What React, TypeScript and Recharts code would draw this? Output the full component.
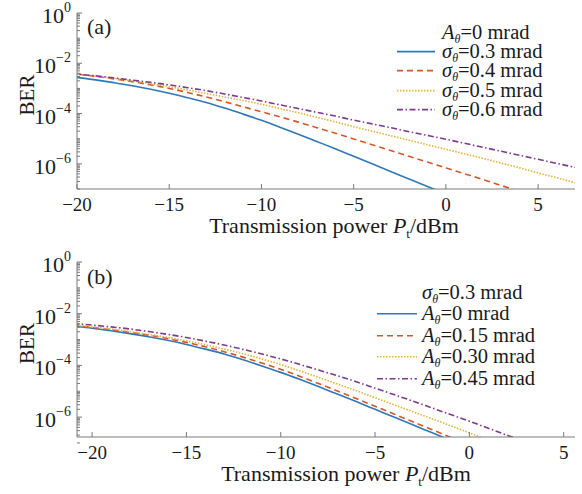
import React from "react";
import { LineChart, Line, XAxis, YAxis, Legend, Label } from "recharts";

// Transmission power P_t in dBm
const power = [-21, -20, -19, -18, -17, -16, -15, -14, -13, -12, -11, -10, -9, -8, -7, -6, -5, -4, -3, -2, -1, 0, 1, 2, 3, 4, 5, 6, 7];

// panel (a): A_θ = 0, σ_θ varies. Values are log10(BER)
const aSigma03 = [-2.48, -2.56, -2.66, -2.77, -2.89, -3.03, -3.19, -3.37, -3.56, -3.78, -4.02, -4.27, -4.54, -4.82, -5.11, -5.4, -5.7, -6.0, -6.3, -6.6, -6.9, -7.2, null, null, null, null, null, null, null];
const aSigma04 = [-2.36, -2.43, -2.52, -2.62, -2.73, -2.86, -3.0, -3.16, -3.34, -3.53, -3.73, -3.93, -4.13, -4.34, -4.56, -4.78, -5.01, -5.24, -5.47, -5.7, -5.93, -6.16, -6.39, -6.62, -6.86, -7.1, null, null, null];
const aSigma05 = [-2.36, -2.43, -2.51, -2.6, -2.7, -2.81, -2.93, -3.06, -3.2, -3.34, -3.48, -3.63, -3.8, -3.97, -4.15, -4.33, -4.52, -4.7, -4.88, -5.06, -5.24, -5.42, -5.6, -5.78, -5.97, -6.16, -6.36, -6.55, -6.75];
const aSigma06 = [-2.37, -2.43, -2.5, -2.58, -2.67, -2.76, -2.86, -2.97, -3.09, -3.22, -3.36, -3.5, -3.65, -3.8, -3.95, -4.1, -4.26, -4.41, -4.56, -4.72, -4.87, -5.02, -5.18, -5.34, -5.5, -5.66, -5.82, -5.98, -6.14];

// panel (b): σ_θ = 0.3, A_θ varies (A_θ=0 is the same curve as σ_θ=0.3 above)
const bAmp000 = [-2.48, -2.56, -2.66, -2.77, -2.89, -3.03, -3.19, -3.37, -3.56, -3.78, -4.02, -4.27, -4.54, -4.82, -5.11, -5.4, -5.7, -6.0, -6.3, -6.6, -6.9, -7.2, null, null, null, null, null, null, null];
const bAmp015 = [-2.46, -2.53, -2.62, -2.72, -2.83, -2.96, -3.11, -3.28, -3.47, -3.68, -3.91, -4.15, -4.42, -4.7, -4.99, -5.28, -5.58, -5.88, -6.18, -6.48, -6.78, -7.08, null, null, null, null, null, null, null];
const bAmp030 = [-2.44, -2.51, -2.59, -2.69, -2.8, -2.92, -3.05, -3.2, -3.37, -3.55, -3.75, -3.97, -4.21, -4.46, -4.72, -4.98, -5.25, -5.52, -5.79, -6.06, -6.33, -6.61, -6.89, null, null, null, null, null, null];
const bAmp045 = [-2.38, -2.44, -2.51, -2.59, -2.69, -2.8, -2.92, -3.06, -3.21, -3.38, -3.56, -3.75, -3.96, -4.18, -4.4, -4.63, -4.88, -5.13, -5.38, -5.64, -5.9, -6.16, -6.43, -6.7, -6.97, null, null, null, null];

const xTicks = [-20, -15, -10, -5, 0, 5];
const yMajorExp = [0, -2, -4, -6];

const AXIS = "#7a7a7a";
const FONT = '"Liberation Serif", "Times New Roman", serif';
const COLORS = ["#2e78b7", "#d4572a", "#e3b33b", "#7e3a8e"];
const DASHES = [undefined, "6 4", "1.5 1.5", "6 2.5 1.5 2.5"];

// minor log ticks 1..9 x 10^n
const yTicks: number[] = [];
for (let e = -7; e <= 0; e++) {
  for (let k = 1; k <= 9; k++) {
    if (e === 0 && k > 1) break;
    yTicks.push(k * Math.pow(10, e));
  }
}

const ber = (v: number | null) => (v == null ? null : Math.pow(10, v));

const dataA = power.map((p, i) => ({
  p,
  s1: ber(aSigma03[i]),
  s2: ber(aSigma04[i]),
  s3: ber(aSigma05[i]),
  s4: ber(aSigma06[i]),
}));

const dataB = power.map((p, i) => ({
  p,
  s1: ber(bAmp000[i]),
  s2: ber(bAmp015[i]),
  s3: ber(bAmp030[i]),
  s4: ber(bAmp045[i]),
}));

const fmtX = (v: number) => (v < 0 ? `\u2212${-v}` : `${v}`);

const XTick = (props: any) => {
  const { x, y, payload } = props;
  return (
    <g>
      <line x1={x} x2={x} y1={y} y2={y - 5} stroke={AXIS} />
      <text x={x} y={y + 22} textAnchor="middle" fontSize={19} fontFamily={FONT} fill="#1a1a1a">
        {fmtX(payload.value)}
      </text>
    </g>
  );
};

const YTick = (props: any) => {
  const { x, y, payload } = props;
  const lg = Math.log10(payload.value);
  const e = Math.round(lg);
  const isMajor = Math.abs(lg - e) < 1e-6 && yMajorExp.includes(e);
  if (!isMajor) return <line x1={x} x2={x + 3} y1={y} y2={y} stroke={AXIS} />;
  return (
    <g>
      <line x1={x} x2={x + 5} y1={y} y2={y} stroke={AXIS} />
      <text x={x - 6} y={y + 10} textAnchor="end" fontSize={22} fontFamily={FONT} fill="#1a1a1a">
        <tspan>10</tspan>
        <tspan dy={-11} fontSize={14}>{e === 0 ? "0" : `\u2212${-e}`}</tspan>
      </text>
    </g>
  );
};

type Item = { pre: string; value: string };

const Sub = ({ ch }: { ch: string }) => (
  <span style={{ fontSize: 12, fontStyle: "italic", position: "relative", top: 4, lineHeight: 0 }}>{ch}</span>
);

const LegendBox = ({ title, items, rowH, sampleW, gap }: { title: Item; items: Item[]; rowH: number; sampleW: number; gap: number }) => (
  <div style={{ fontFamily: FONT, fontSize: 20.5, color: "#1a1a1a", lineHeight: `${rowH}px`, whiteSpace: "nowrap" }}>
    <div style={{ paddingLeft: sampleW + gap, height: rowH }}>
      <i>{title.pre}</i>
      <Sub ch={"\u03b8"} />={title.value}
    </div>
    {items.map((it, i) => (
      <div key={i} style={{ display: "flex", alignItems: "center", height: rowH }}>
        <svg width={sampleW} height={rowH} style={{ marginRight: gap }}>
          <line x1={0} x2={sampleW} y1={rowH / 2} y2={rowH / 2} stroke={COLORS[i]} strokeWidth={1.6} strokeDasharray={DASHES[i]} />
        </svg>
        <span>
          <i>{it.pre}</i>
          <Sub ch={"\u03b8"} />={it.value}
        </span>
      </div>
    ))}
  </div>
);

const legendA = {
  title: { pre: "A", value: "0 mrad" },
  items: [
    { pre: "\u03c3", value: "0.3 mrad" },
    { pre: "\u03c3", value: "0.4 mrad" },
    { pre: "\u03c3", value: "0.5 mrad" },
    { pre: "\u03c3", value: "0.6 mrad" },
  ],
};
const legendB = {
  title: { pre: "\u03c3", value: "0.3 mrad" },
  items: [
    { pre: "A", value: "0 mrad" },
    { pre: "A", value: "0.15 mrad" },
    { pre: "A", value: "0.30 mrad" },
    { pre: "A", value: "0.45 mrad" },
  ],
};

type PanelProps = {
  data: any[];
  xDomain: [number, number];
  yDomain: [number, number];
  marginTop: number;
  xAxisH: number;
  titleX: number;
  legend: { title: Item; items: Item[] };
  legendPos: { left: number; top: number };
  rowH: number;
  sampleW: number;
  gap: number;
  names: string[];
};

const Panel = (p: PanelProps) => (
  <LineChart width={582} height={247} data={p.data} margin={{ top: p.marginTop, right: 7, bottom: 0, left: 10 }}>
    <XAxis
      dataKey="p"
      type="number"
      domain={p.xDomain}
      allowDataOverflow
      ticks={xTicks}
      interval={0}
      tickSize={0}
      tickMargin={0}
      height={p.xAxisH}
      stroke={AXIS}
      tick={<XTick />}
    >
      <Label
        content={(lp: any) => {
          const vb = lp.viewBox;
          return (
            <text x={p.titleX} y={vb.y + 44} textAnchor="middle" fontSize={22} fontFamily={FONT} fill="#1a1a1a">
              <tspan>Transmission power </tspan>
              <tspan fontStyle="italic">P</tspan>
              <tspan dy={5} fontSize={13}>t</tspan>
              <tspan dy={-5}>/dBm</tspan>
            </text>
          );
        }}
      />
    </XAxis>
    <XAxis xAxisId="top" orientation="top" dataKey="p" type="number" domain={p.xDomain} allowDataOverflow height={0} tick={false} tickLine={false} stroke={AXIS} />
    <YAxis
      scale="log"
      type="number"
      domain={p.yDomain}
      allowDataOverflow
      ticks={yTicks}
      interval={0}
      tickSize={0}
      tickMargin={0}
      width={67}
      stroke={AXIS}
      tick={<YTick />}
    >
      <Label
        content={(lp: any) => {
          const vb = lp.viewBox;
          const cy = vb.y + vb.height / 2 - 6;
          return (
            <text transform={`translate(27, ${cy}) rotate(-90)`} textAnchor="middle" dominantBaseline="central" fontSize={21} fontFamily={FONT} fill="#1a1a1a">
              BER
            </text>
          );
        }}
      />
    </YAxis>
    <YAxis yAxisId="right" orientation="right" type="number" domain={[0, 1]} width={0} tick={false} tickLine={false} stroke={AXIS} />
    <Legend
      layout="vertical"
      align="center"
      verticalAlign="middle"
      wrapperStyle={{ left: p.legendPos.left, top: p.legendPos.top, width: "auto", height: "auto" }}
      content={() => <LegendBox title={p.legend.title} items={p.legend.items} rowH={p.rowH} sampleW={p.sampleW} gap={p.gap} />}
    />
    {["s1", "s2", "s3", "s4"].map((k, i) => (
      <Line
        key={k}
        dataKey={k}
        name={p.names[i]}
        type="monotone"
        stroke={COLORS[i]}
        strokeWidth={1.6}
        strokeDasharray={DASHES[i]}
        dot={false}
        isAnimationActive={false}
      />
    ))}
  </LineChart>
);

export default function App() {
  return (
    <div style={{ position: "absolute", left: 0, top: 0, width: 582, height: 494, background: "#fff" }}>
      <div style={{ position: "absolute", left: 0, top: 0 }}>
        <Panel
          data={dataA}
          xDomain={[-20, 7]}
          yDomain={[1e-7, 1]}
          marginTop={13}
          xAxisH={58}
          titleX={334}
          legend={legendA}
          legendPos={{ left: 397, top: 23 }}
          rowH={19.2}
          sampleW={38}
          gap={7}
          names={["0.3", "0.4", "0.5", "0.6"]}
        />
      </div>
      <div style={{ position: "absolute", left: 0, top: 247 }}>
        <Panel
          data={dataB}
          xDomain={[-20.8, 5.6]}
          yDomain={[Math.pow(10, -6.77), 1]}
          marginTop={15}
          xAxisH={57}
          titleX={346}
          legend={legendB}
          legendPos={{ left: 377, top: 35 }}
          rowH={21.4}
          sampleW={40}
          gap={5}
          names={["0", "0.15", "0.30", "0.45"]}
        />
      </div>
      <div style={{ position: "absolute", left: 87, top: 14, fontFamily: FONT, fontSize: 22, color: "#1a1a1a" }}>(a)</div>
      <div style={{ position: "absolute", left: 87, top: 264, fontFamily: FONT, fontSize: 22, color: "#1a1a1a" }}>(b)</div>
    </div>
  );
}
